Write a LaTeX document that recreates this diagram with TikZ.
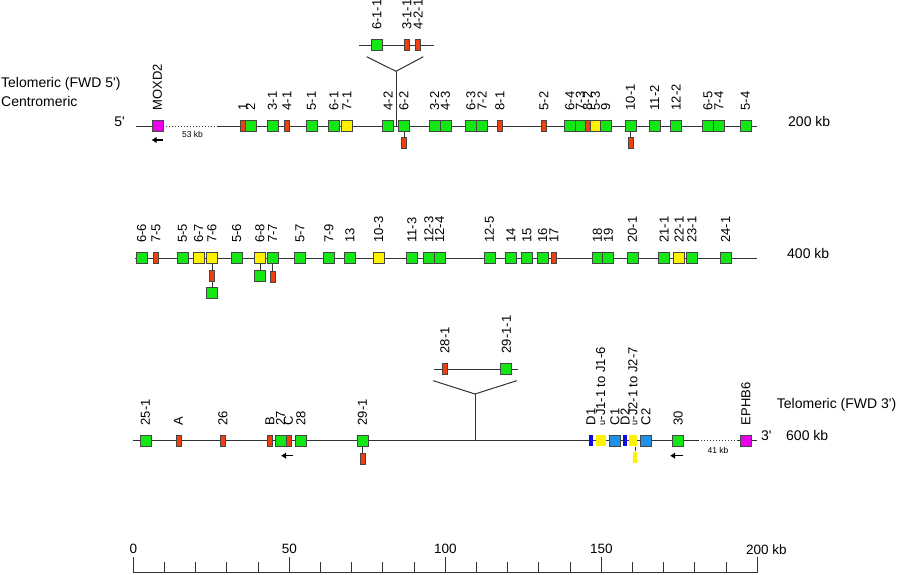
\documentclass[tikz,border=0pt]{standalone}
\usepackage{fontspec}
\setmainfont{Liberation Sans}
\usetikzlibrary{arrows.meta}

\definecolor{vgreen}{RGB}{20,232,20}
\definecolor{vred}{RGB}{240,62,12}
\definecolor{vyellow}{RGB}{255,242,0}
\definecolor{flankpink}{RGB}{232,0,232}
\definecolor{dblue}{RGB}{12,12,235}
\definecolor{cblue}{RGB}{30,146,232}
\definecolor{boxgray}{RGB}{70,70,70}
\definecolor{linegray}{RGB}{50,50,50}

\newcommand\genefont{\fontsize{13}{13}\selectfont}
\newcommand\kbfont{\fontsize{14}{14}\selectfont}
\newcommand\jhook{{\fontsize{9}{9}\selectfont u}}

\tikzset{
  gene/.style={draw=boxgray, line width=0.8pt, inner sep=0pt, minimum height=11pt},
  vfun/.style={gene, fill=vgreen, minimum width=11pt},
  vps/.style={gene, fill=vred, minimum width=5pt},
  vorf/.style={gene, fill=vyellow, minimum width=11pt},
  flank/.style={gene, fill=flankpink, minimum width=11pt},
  dseg/.style={gene, draw=none, fill=dblue, minimum width=3.5pt},
  jclus/.style={gene, draw=none, fill=vyellow, minimum width=10pt},
  jnarrow/.style={gene, draw=none, fill=vyellow, minimum width=7.5pt},
  jbar/.style={gene, draw=none, fill=vyellow, minimum width=3.5pt, minimum height=11.5pt},
  cseg/.style={gene, fill=cblue, minimum width=11pt},
  lbl/.style={rotate=90, anchor=west, inner sep=0pt, font=\genefont},
  chrom/.style={draw=linegray, line width=1pt},
  gap/.style={draw=linegray, line width=1pt, dash pattern=on 1pt off 2pt},
  stem/.style={draw=linegray, line width=1pt},
  strand/.style={line width=1.4pt, -{Latex[length=5pt,width=6.5pt]}},
  side/.style={anchor=west, inner sep=0pt, font=\kbfont},
  small/.style={inner sep=0pt, font=\fontsize{8.5}{8.5}\selectfont},
  scaleline/.style={draw=linegray, line width=1pt},
}

\begin{document}
\begin{tikzpicture}[x=1pt,y=-1pt]
  \useasboundingbox (0,0) rectangle (900,574);

  % side texts
  \node[side] (telo5) at (1,84.3) {Telomeric (FWD 5\textquotesingle)};
  \node[side] (centro) at (1,101.7) {Centromeric};
  \node[side, anchor=east] (five) at (125,121.7) {5\textquotesingle};
  \node[side] (kb200) at (788,121.5) {200 kb};
  \node[side] (kb400) at (787,253.7) {400 kb};
  \node[side] (telo3) at (776.7,405) {Telomeric (FWD 3\textquotesingle)};
  \node[side] (three) at (761,435.5) {3\textquotesingle};
  \node[side] (kb600) at (786,435.7) {600 kb};

  % row 1
  \coordinate (a0) at (136,126);
  \coordinate (agapl) at (163,126);
  \coordinate (agapr) at (217,126);
  \coordinate (aend) at (757,126);
  \draw[chrom] (a0) -- (agapl);
  \draw[gap] (agapl) -- (agapr);
  \draw[chrom] (agapr) -- (aend);
  \foreach \x/\kind/\txt [count=\i] in {157.5/flank/MOXD2, 243/vps/1, 250.5/vfun/2,
      272.5/vfun/3-1, 287/vps/4-1, 311.5/vfun/5-1, 333.8/vfun/6-1, 347/vorf/7-1,
      388/vfun/4-2, 404/vfun/6-2, 434.7/vfun/3-2, 445.5/vfun/4-3, 471/vfun/6-3,
      482/vfun/7-2, 500/vps/8-1, 544/vps/5-2, 570/vfun/6-4, 580.5/vfun/7-3,
      587.5/vps/8-2, 595.5/vorf/5-3, 605.7/vfun/9, 630.5/vfun/10-1, 654.5/vfun/11-2,
      676/vfun/12-2, 708/vfun/6-5, 719/vfun/7-4, 745.5/vfun/5-4}{
    \node[\kind] (a\i) at (\x,126) {};
    \node[lbl] (al\i) at (\x,110.5) {\txt};
  }
  \node[vps] (as1) at (404,142.8) {};
  \node[vps] (as2) at (630.5,142.8) {};
  \draw[stem] (a10.south) -- (as1.north);
  \draw[stem] (a22.south) -- (as2.north);
  \node[small] (a53) at (192.5,134.7) {53 kb};
  \draw[strand] (163,140) coordinate (aarr) -- (151.5,140);

  % inset above row 1
  \coordinate (p0) at (359,45.3);
  \coordinate (p1) at (434,45.3);
  \draw[chrom] (p0) -- (p1);
  \foreach \x/\kind/\txt [count=\i] in {377/vfun/6-1-1, 407/vps/3-1-1, 418/vps/4-2-1}{
    \node[\kind] (p\i g) at (\x,45.3) {};
    \node[lbl] (p\i l) at (\x,30) {\txt};
  }
  \coordinate (pl) at (366.7,56.7);
  \coordinate (pr) at (423.3,56.7);
  \coordinate (pv) at (396,71.3);
  \coordinate (pfoot) at (396,126);
  \draw[stem] (pl) -- (pv) -- (pr);
  \draw[stem] (pv) -- (pfoot);

  % row 2
  \coordinate (b0) at (135,258.3);
  \coordinate (bend) at (756.7,258.3);
  \draw[chrom] (b0) -- (bend);
  \foreach \x/\kind/\txt [count=\i] in {141.7/vfun/6-6, 156/vps/7-5, 182.5/vfun/5-5,
      198.7/vorf/6-7, 212/vorf/7-6, 236.7/vfun/5-6, 260/vorf/6-8, 272.7/vfun/7-7,
      300/vfun/5-7, 329/vfun/7-9, 349.8/vfun/13, 378.7/vorf/10-3, 412/vfun/11-3,
      428.8/vfun/12-3, 439.7/vfun/12-4, 489.5/vfun/12-5, 511/vfun/14, 527/vfun/15,
      542.7/vfun/16, 554/vps/17, 597.5/vfun/18, 608.3/vfun/19, 632.5/vfun/20-1,
      664/vfun/21-1, 679/vorf/22-1, 691.8/vfun/23-1, 725.5/vfun/24-1}{
    \node[\kind] (b\i) at (\x,258.3) {};
    \node[lbl] (bl\i) at (\x,242.8) {\txt};
  }
  \node[vps] (bs1) at (212,275.7) {};
  \node[vfun] (bs2) at (212,292.8) {};
  \node[vfun] (bs3) at (260,276) {};
  \node[vps] (bs4) at (272.7,276.8) {};
  \draw[stem] (b5.south) -- (bs1.north);
  \draw[stem] (bs1.south) -- (bs2.north);
  \draw[stem] (b7.south) -- (bs3.north);
  \draw[stem] (b8.south) -- (bs4.north);

  % row 3
  \coordinate (c0) at (133.3,440.7);
  \coordinate (cgapl) at (698,440.7);
  \coordinate (cgapr) at (738,440.7);
  \coordinate (cend) at (756.7,440.7);
  \draw[chrom] (c0) -- (cgapl);
  \draw[gap] (cgapl) -- (cgapr);
  \draw[chrom] (cgapr) -- (cend);
  \foreach \x/\kind/\txt [count=\i] in {145.5/vfun/25-1, 178.5/vps/A, 222.8/vps/26,
      270/vps/B, 280.7/vfun/27, 288.5/vps/C, 301/vfun/28, 362.5/vfun/29-1,
      591/dseg/D1, 600.7/jclus/{\jhook-J1-1 to J1-6}, 614.8/cseg/C1, 625/dseg/D2,
      633/jnarrow/{\jhook-J2-1 to J2-7}, 645.8/cseg/C2, 678.2/vfun/30, 746/flank/EPHB6}{
    \node[\kind] (c\i) at (\x,440.7) {};
    \node[lbl] (cl\i) at (\x,425.5) {\txt};
  }
  \node[vps] (cs1) at (362.5,458.8) {};
  \node[jbar] (cs2) at (635,457.5) {};
  \draw[stem] (c8.south) -- (cs1.north);
  \draw[stem] (cs2.north |- c13.south) -- (cs2.north);
  \node[small] (c41) at (718,450.7) {41 kb};
  \draw[strand] (293.3,455.7) coordinate (carr1) -- (281,455.7);
  \draw[strand] (683.3,455.7) coordinate (carr2) -- (670,455.7);

  % inset above row 3
  \coordinate (q0) at (434.3,369.3);
  \coordinate (q1) at (517.7,369.3);
  \draw[chrom] (q0) -- (q1);
  \foreach \x/\kind/\txt [count=\i] in {445/vps/28-1, 506.3/vfun/29-1-1}{
    \node[\kind] (q\i g) at (\x,369.3) {};
    \node[lbl] (q\i l) at (\x,353.5) {\txt};
  }
  \coordinate (ql) at (433.3,380.7);
  \coordinate (qr) at (516.7,380.7);
  \coordinate (qv) at (475,394);
  \coordinate (qfoot) at (475,440.7);
  \draw[stem] (ql) -- (qv) -- (qr);
  \draw[stem] (qv) -- (qfoot);

  % scale bar
  \coordinate (s0) at (133.3,572.7);
  \coordinate (s200) at (757.3,572.7);
  \draw[scaleline] (s0) -- (s200);
  \foreach \k in {1,...,19}{
    \draw[scaleline] (133.3+31.2*\k,572.7) -- ++(0,-10.4);
  }
  \foreach \v [count=\j from 0] in {0,50,100,150,200}{
    \draw[scaleline] (133.3+156*\j,572.7) -- ++(0,-15.4);
  }
  \foreach \v [count=\j from 0] in {0,50,100,150}{
    \node[inner sep=0pt, font=\fontsize{13.5}{13.5}\selectfont] (sl\v) at (133.3+156*\j,549.3) {\v};
  }
  \node[inner sep=0pt, font=\fontsize{13.5}{13.5}\selectfont] (sl200) at (757.3,549.3) {200\rlap{ kb}};
\end{tikzpicture}
\end{document}
